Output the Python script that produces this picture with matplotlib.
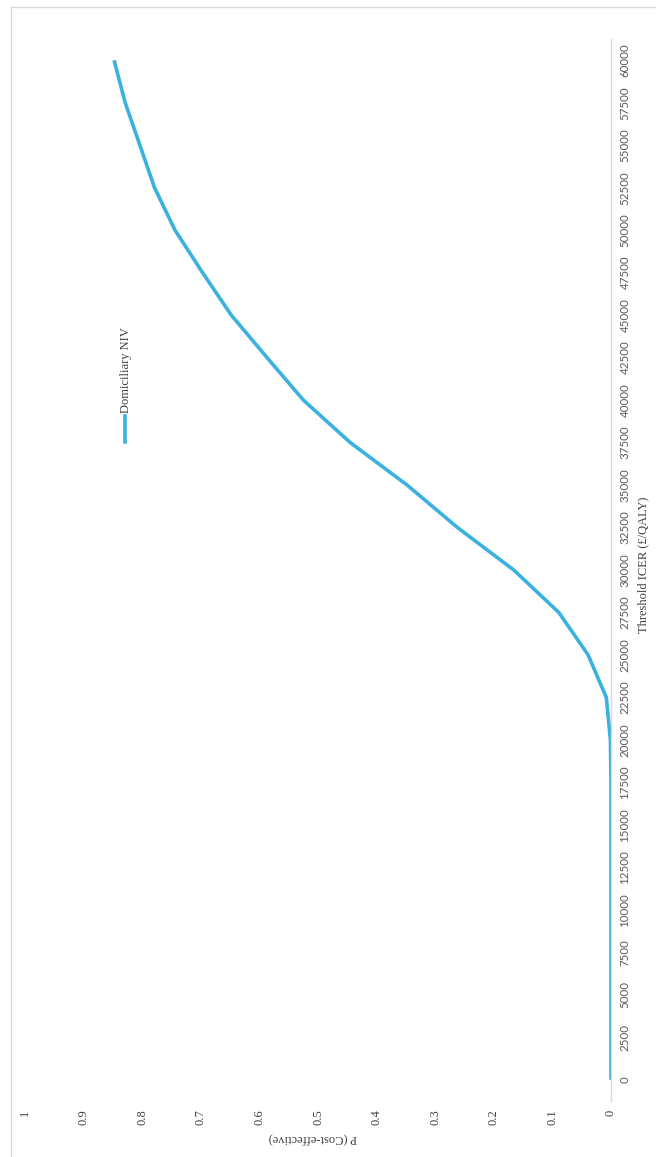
import matplotlib
matplotlib.use("Agg")
import matplotlib.pyplot as plt
from matplotlib.lines import Line2D
from matplotlib.patches import Rectangle

thresholds = [0, 2500, 5000, 7500, 10000, 12500, 15000, 17500, 20000, 22500,
              25000, 27500, 30000, 32500, 35000, 37500, 40000, 42500, 45000,
              47500, 50000, 52500, 55000, 57500, 60000]
p_cost_effective = [0, 0, 0, 0, 0, 0, 0, 0, 0.001, 0.008,
                    0.039, 0.089, 0.166, 0.262, 0.348, 0.445, 0.525, 0.587, 0.648,
                    0.697, 0.744, 0.779, 0.804, 0.829, 0.848]
p_ticks = [0, 0.1, 0.2, 0.3, 0.4, 0.5, 0.6, 0.7, 0.8, 0.9, 1]
p_tick_labels = ["0", "0.1", "0.2", "0.3", "0.4", "0.5", "0.6", "0.7", "0.8", "0.9", "1"]
series_name = "Domiciliary NIV"
x_title = "Threshold ICER (£/QALY)"
y_title = "P (Cost-effective)"

W, H = 656, 1157
fig = plt.figure(figsize=(W / 100, H / 100), dpi=100)

# chart border (cropped at right and bottom)
fig.patches.append(Rectangle((11 / W, -0.01), 1.05, (H - 7) / H + 0.01, transform=fig.transFigure,
                             fill=False, edgecolor="#d9d9d9", linewidth=1.0))

ax_l, ax_r = 25, 611
ax_t, ax_b = 39, 1101
ax = fig.add_axes([ax_l / W, 1 - ax_b / H, (ax_r - ax_l) / W, (ax_b - ax_t) / H])

line_color = "#3bb1e0"
ax.plot(p_cost_effective, thresholds, color=line_color, linewidth=2.6,
        solid_capstyle="butt", solid_joinstyle="round")

ax.set_xlim(1, 0)
step = thresholds[1] - thresholds[0]
ax.set_ylim(thresholds[0] - step / 2, thresholds[-1] + step / 2)

for s in ["left", "top", "bottom"]:
    ax.spines[s].set_visible(False)
ax.spines["right"].set_color("#d9d9d9")
ax.spines["right"].set_linewidth(1.0)

ax.yaxis.tick_right()
ax.set_yticks(thresholds)
ax.set_yticklabels([str(t) for t in thresholds], rotation=90, va="center",
                   fontfamily="Lato", fontsize=8.3, color="#595959")
ax.tick_params(axis="y", length=0, pad=6)

ax.set_xticks(p_ticks)
ax.set_xticklabels(p_tick_labels, rotation=90, va="top", ha="center",
                   fontfamily="Liberation Serif", fontsize=9, color="#404040")
ax.tick_params(axis="x", length=0, pad=6)

ax.yaxis.set_label_position("right")
ax.set_ylabel(x_title, rotation=90, fontfamily="Liberation Serif", fontsize=9,
              color="#404040", ha="center", va="center")
ax.yaxis.set_label_coords((643 - ax_l) / (ax_r - ax_l), (ax_b - 565) / (ax_b - ax_t))
ax.set_xlabel(y_title, rotation=180, fontfamily="Liberation Serif", fontsize=9,
              color="#404040", ha="center", va="center")
ax.xaxis.set_label_coords((313 - ax_l) / (ax_r - ax_l), -(1138 - ax_b) / (ax_b - ax_t))

# legend (rotated, drawn manually)
lx = 125 / W
fig.add_artist(Line2D([lx, lx], [1 - 442 / H, 1 - 416 / H], transform=fig.transFigure,
                      color=line_color, linewidth=2.6))
fig.text(126 / W, 1 - 413 / H, series_name, rotation=90, ha="center", va="bottom",
         fontfamily="Liberation Serif", fontsize=9, color="#404040")

fig.savefig("out.png", dpi=100, facecolor="white")
